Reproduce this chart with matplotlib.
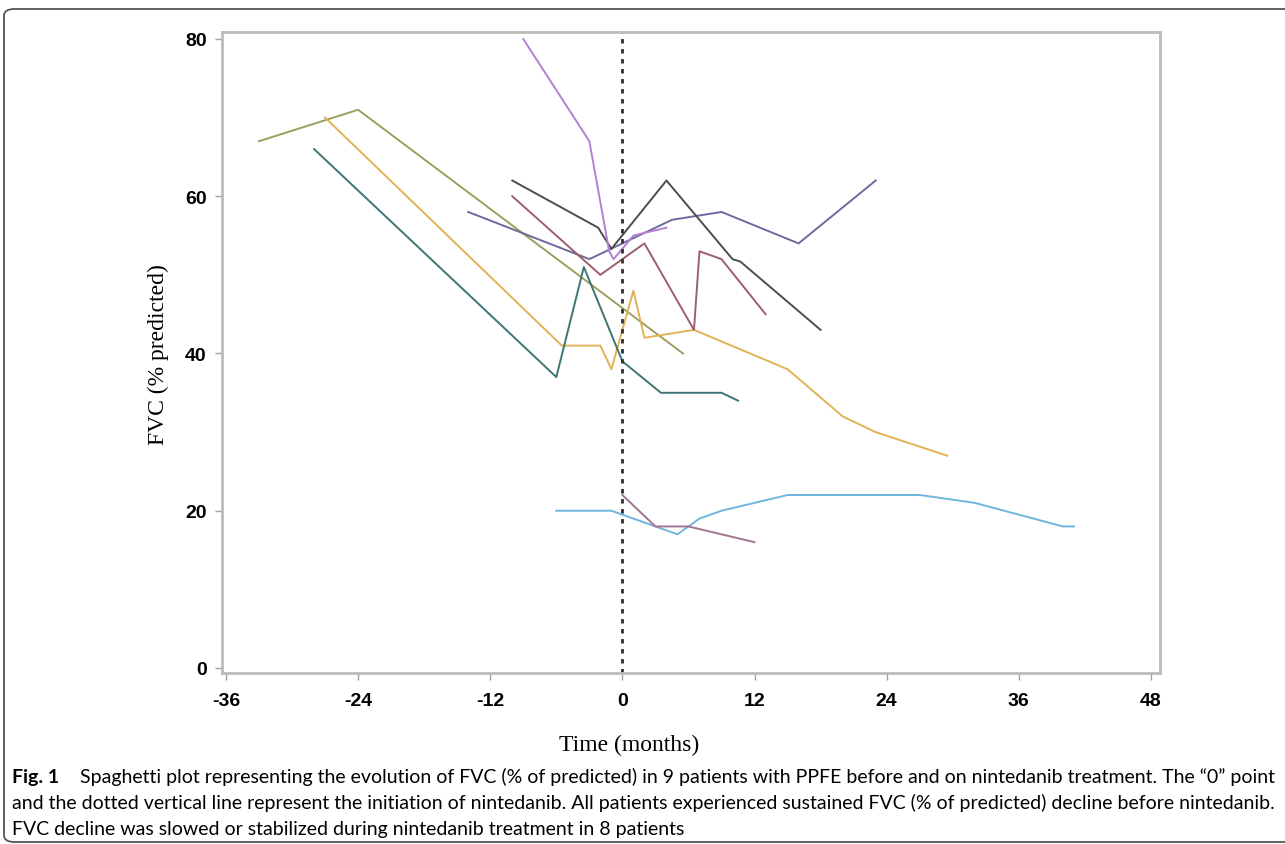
import matplotlib
matplotlib.use('Agg')
import matplotlib.pyplot as plt
from matplotlib.patches import FancyBboxPatch

# FVC (% predicted) per patient, time in months relative to nintedanib start
olive_t = [-33, -24, 5.5]
olive_fvc = [67, 71, 40]

orange_t = [-27, -5.5, -2, -1, 1, 2, 6.5, 15, 20, 23, 29.5]
orange_fvc = [70, 41, 41, 38, 48, 42, 43, 38, 32, 30, 27]

teal_t = [-28, -6, -3.5, 0, 3.5, 9, 10.5]
teal_fvc = [66, 37, 51, 39, 35, 35, 34]

purple_t = [-9, -3, -1.2, -0.8, 1, 4]
purple_fvc = [80, 67, 53, 52, 55, 56]

slate_t = [-14, -3, 0, 4.5, 9, 16, 23]
slate_fvc = [58, 52, 54, 57, 58, 54, 62]

dark_t = [-10, -2.2, -1, 4, 10, 10.7, 18]
dark_fvc = [62, 56, 53.3, 62, 52, 51.7, 43]

maroon_t = [-10, -2, 2, 6.5, 7, 9, 13]
maroon_fvc = [60, 50, 54, 43, 53, 52, 45]

blue_t = [-6, -1, 3, 5, 7, 9, 15, 27, 32, 40, 41]
blue_fvc = [20, 20, 18, 17, 19, 20, 22, 22, 21, 18, 18]

pink_t = [0, 3, 6, 12]
pink_fvc = [22, 18, 18, 16]

x_ticks = [-36, -24, -12, 0, 12, 24, 36, 48]
y_ticks = [0, 20, 40, 60, 80]

caption_1 = ("Spaghetti plot representing the evolution of FVC (% of predicted) in 9 patients "
             "with PPFE before and on nintedanib treatment. The \u201c0\u201d point")
caption_2 = ("and the dotted vertical line represent the initiation of nintedanib. All patients "
             "experienced sustained FVC (% of predicted) decline before nintedanib.")
caption_3 = "FVC decline was slowed or stabilized during nintedanib treatment in 8 patients"

W, H = 1285, 845
fig = plt.figure(figsize=(W / 100, H / 100), dpi=100)
ax = fig.add_axes([222 / W, 1 - 674 / H, (1160 - 222) / W, (674 - 33) / H])

# patient lines
ax.plot(olive_t, olive_fvc, color='#9da05c', lw=1.4)
ax.plot(orange_t, orange_fvc, color='#e2b256', lw=1.4)
ax.plot(teal_t, teal_fvc, color='#3d7574', lw=1.4)
ax.plot(slate_t, slate_fvc, color='#6d6a9e', lw=1.4)
ax.plot(dark_t, dark_fvc, color='#4d4d4d', lw=1.4)
ax.plot(maroon_t, maroon_fvc, color='#9c5f6c', lw=1.4)
ax.plot(purple_t, purple_fvc, color='#b580d2', lw=1.4)
ax.plot(blue_t, blue_fvc, color='#6fb5dd', lw=1.4)
ax.plot(pink_t, pink_fvc, color='#a27392', lw=1.4)

# start of nintedanib
ax.axvline(0, color='#2f2f2f', lw=2, linestyle=(0, (1.6, 2)))

ax.set_xlim(-36.36, 48.82)
ax.set_ylim(-0.64, 80.89)
ax.set_xticks(x_ticks)
ax.set_yticks(y_ticks)
ax.set_xticklabels([str(t) for t in x_ticks], family='Liberation Sans',
                   fontweight='bold', fontsize=14)
ax.set_yticklabels([str(t) for t in y_ticks], family='Liberation Sans',
                   fontweight='bold', fontsize=14)
ax.tick_params(axis='x', direction='out', length=5, width=1, color='#a0a0a0', pad=9)
ax.tick_params(axis='y', direction='out', length=5, width=1, color='#a0a0a0', pad=6)
for s in ax.spines.values():
    s.set_color('#bcbcbc')
    s.set_linewidth(2)

fig.text(629 / W, 1 - 745 / H, 'Time (months)', ha='center', va='center',
         family='Liberation Serif', fontsize=17)
fig.text(158 / W, 1 - 355 / H, 'FVC (% predicted)', ha='center', va='center',
         rotation=90, family='Liberation Serif', fontsize=17)

# caption
fig.text(12 / W, 1 - 783 / H, 'Fig. 1', ha='left', va='baseline',
         family='Lato', fontweight='bold', fontsize=14)
fig.text(80 / W, 1 - 783 / H, caption_1, ha='left', va='baseline',
         family='Lato', fontsize=14)
fig.text(12 / W, 1 - 809 / H, caption_2, ha='left', va='baseline',
         family='Lato', fontsize=14)
fig.text(12 / W, 1 - 835 / H, caption_3, ha='left', va='baseline',
         family='Lato', fontsize=14)

# outer frame of the figure panel
frame = FancyBboxPatch((4 / W, 1 - 843 / H), 1.2, (843 - 10) / H,
                       boxstyle='round,pad=0,rounding_size=0.008',
                       transform=fig.transFigure, fill=False,
                       edgecolor='#555555', lw=1.3, clip_on=False)
fig.patches.append(frame)

plt.savefig('out.png', dpi=100)
